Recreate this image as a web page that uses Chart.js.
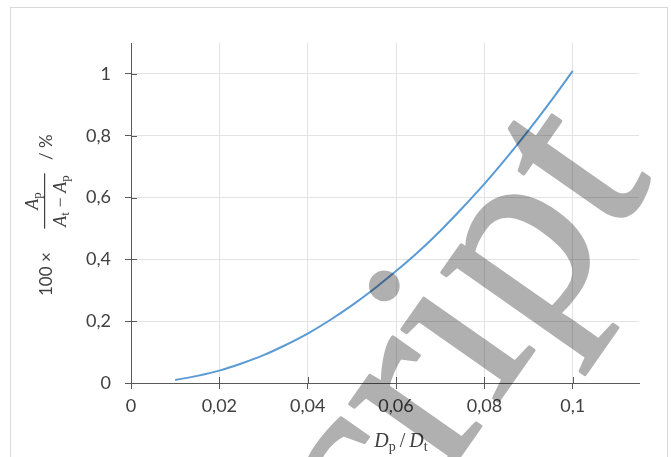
<!DOCTYPE html>
<html>
<head>
<meta charset="utf-8">
<script src="https://cdn.jsdelivr.net/npm/chart.js@4.4.1/dist/chart.umd.min.js"></script>
<style>
  body { margin: 0; background: #fff; }
  #wrap { width: 671px; height: 457px; }
</style>
</head>
<body>
<div id="wrap"><canvas id="chart" width="671" height="457"></canvas></div>
<script>
// ratio Dp/Dt
var ratios = [0.01, 0.015, 0.02, 0.025, 0.03, 0.035, 0.04, 0.045, 0.05, 0.055,
              0.06, 0.065, 0.07, 0.075, 0.08, 0.085, 0.09, 0.095, 0.1];
// 100 x Ap/(At - Ap) in %
var shares = [0.01, 0.023, 0.04, 0.063, 0.09, 0.123, 0.16, 0.203, 0.251, 0.304,
              0.362, 0.424, 0.492, 0.566, 0.644, 0.728, 0.817, 0.911, 1.01];
var xTicks = [0, 0.02, 0.04, 0.06, 0.08, 0.1];
var yTicks = [0, 0.2, 0.4, 0.6, 0.8, 1];
var watermark = 'script';

var textCol = '#404040';
var axisCol = '#595959';
var gridCol = '#e3e3e3';

function comma(v) {
  return String(Number(v.toFixed(3))).replace('.', ',');
}

// draws a row of text pieces (font + vertical shift), centred on x
function drawRuns(ctx, runs, x, y) {
  var w = 0;
  runs.forEach(function(r) { ctx.font = r.font; w += ctx.measureText(r.t).width; });
  var cx = x - w / 2;
  runs.forEach(function(r) {
    ctx.font = r.font;
    ctx.fillText(r.t, cx, y + (r.dy || 0));
    cx += ctx.measureText(r.t).width;
  });
  return w;
}

var extras = {
  id: 'extras',
  beforeDraw: function(chart) {
    var ctx = chart.ctx;
    ctx.save();
    ctx.fillStyle = '#fff';
    ctx.fillRect(0, 0, chart.width, chart.height);
    ctx.strokeStyle = '#d9d9d9';
    ctx.lineWidth = 1;
    ctx.strokeRect(10.5, 7.5, 657, 470);
    ctx.restore();
  },
  afterDraw: function(chart) {
    var ctx = chart.ctx;
    var xs = chart.scales.x, ys = chart.scales.y;
    ctx.save();
    // inner half of the cross tick marks
    ctx.strokeStyle = axisCol;
    ctx.lineWidth = 1;
    ctx.beginPath();
    xTicks.forEach(function(v) {
      var px = Math.round(xs.getPixelForValue(v)) + 0.5;
      ctx.moveTo(px, ys.bottom - 6);
      ctx.lineTo(px, ys.bottom);
    });
    yTicks.forEach(function(v) {
      var py = Math.round(ys.getPixelForValue(v)) + 0.5;
      ctx.moveTo(xs.left, py);
      ctx.lineTo(xs.left + 6, py);
    });
    ctx.stroke();

    ctx.fillStyle = textCol;
    ctx.textBaseline = 'alphabetic';
    ctx.textAlign = 'left';

    // x title
    var it = 'italic 20px "Liberation Serif"';
    var sub = '14px "Liberation Serif"';
    drawRuns(ctx, [
      { t: 'D', font: it },
      { t: 'p', font: sub, dy: 4 },
      { t: '\u2009/\u2009', font: '20px "Liberation Serif"' },
      { t: 'D', font: it },
      { t: 't', font: sub, dy: 4 }
    ], 401, 447);

    // y title, rotated
    ctx.translate(52, 0);
    ctx.rotate(-Math.PI / 2);
    ctx.font = '17px Lato';
    ctx.fillText('100 \u00d7', -296, 0);
    var fit = 'italic 18px "Liberation Serif"';
    var fsub = '13px "Liberation Serif"';
    drawRuns(ctx, [{ t: 'A', font: fit }, { t: 'p', font: fsub, dy: 3 }], -201, -14);
    var dw = drawRuns(ctx, [
      { t: 'A', font: fit }, { t: 't', font: fsub, dy: 3 },
      { t: ' \u2212 ', font: '18px "Liberation Serif"' },
      { t: 'A', font: fit }, { t: 'p', font: fsub, dy: 3 }
    ], -201, 14);
    ctx.fillRect(-201 - dw / 2 - 2, -8, dw + 4, 1.2);
    ctx.font = '17px Lato';
    ctx.fillText('/ %', -160, 0);
    ctx.restore();

    // grey watermark lying over the plot
    var off = document.createElement('canvas');
    off.width = chart.width;
    off.height = chart.height;
    var o = off.getContext('2d');
    o.fillStyle = '#fff';
    o.fillRect(0, 0, off.width, off.height);
    o.fillStyle = '#b0b0b0';
    o.strokeStyle = '#b0b0b0';
    o.lineWidth = 3;
    o.lineJoin = 'round';
    o.font = '262px "Liberation Serif"';
    o.textBaseline = 'alphabetic';
    o.translate(320, 656);
    o.rotate(-55 * Math.PI / 180);
    o.fillText(watermark, 0, 0);
    o.strokeText(watermark, 0, 0);
    ctx.save();
    ctx.globalCompositeOperation = 'multiply';
    ctx.drawImage(off, 0, 0);
    ctx.restore();
  }
};

new Chart(document.getElementById('chart'), {
  type: 'scatter',
  data: {
    datasets: [{
      data: ratios.map(function(r, i) { return { x: r, y: shares[i] }; }),
      showLine: true,
      borderColor: '#5b9bd5',
      borderWidth: 2,
      pointRadius: 0,
      cubicInterpolationMode: 'monotone',
      fill: false
    }]
  },
  options: {
    responsive: false,
    animation: false,
    devicePixelRatio: 1,
    layout: { padding: { top: 43, right: 32, left: 0, bottom: 0 } },
    plugins: { legend: { display: false }, tooltip: { enabled: false } },
    scales: {
      x: {
        type: 'linear',
        min: 0,
        max: 0.115,
        afterFit: function(s) { s.height = 74; },
        afterBuildTicks: function(s) { s.ticks = xTicks.map(function(v) { return { value: v }; }); },
        ticks: {
          color: textCol,
          font: { family: 'Lato', size: 18 },
          padding: 6,
          maxRotation: 0,
          callback: function(v) { return comma(v); }
        },
        grid: { color: gridCol, tickColor: axisCol, tickLength: 6 },
        border: { color: axisCol, width: 1 }
      },
      y: {
        type: 'linear',
        min: 0,
        max: 1.1,
        afterFit: function(s) { s.width = 131; },
        afterBuildTicks: function(s) { s.ticks = yTicks.map(function(v) { return { value: v }; }); },
        ticks: {
          color: textCol,
          font: { family: 'Lato', size: 18 },
          padding: 14,
          callback: function(v) { return comma(v); }
        },
        grid: { color: gridCol, tickColor: axisCol, tickLength: 6 },
        border: { color: axisCol, width: 1 }
      }
    }
  },
  plugins: [extras]
});
</script>
</body>
</html>
